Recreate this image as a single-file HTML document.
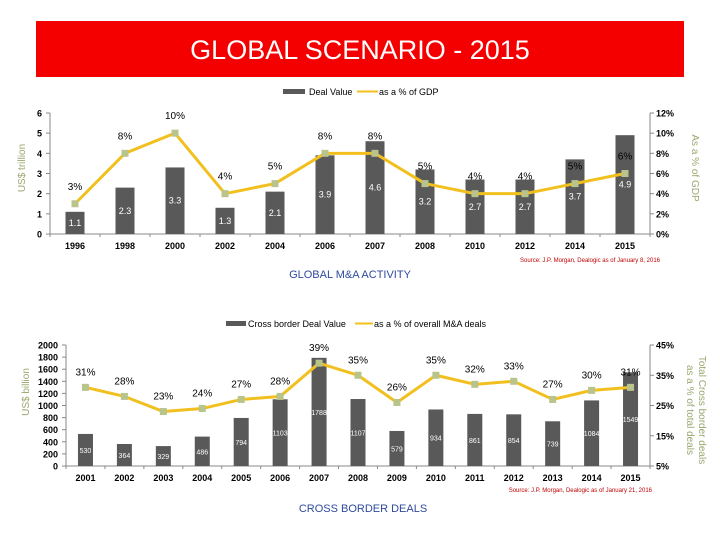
<!DOCTYPE html>
<html><head><meta charset="utf-8">
<style>
html,body{margin:0;padding:0;background:#fff;}
body{width:720px;height:540px;overflow:hidden;position:relative;font-family:"Liberation Sans",sans-serif;}
#title{position:absolute;left:36px;top:21px;width:648px;height:56px;background:#f40000;color:#fff;font-size:27px;text-align:center;line-height:58px;}
svg{position:absolute;left:0;top:0;}
svg text{font-family:"Liberation Sans",sans-serif;}
</style></head>
<body>
<div id="title">GLOBAL SCENARIO - 2015</div>
<svg id="s" width="720" height="540"></svg>
<script>
const cat1 = ["1996","1998","2000","2002","2004","2006","2007","2008","2010","2012","2014","2015"];
const deal1 = [1.1,2.3,3.3,1.3,2.1,3.9,4.6,3.2,2.7,2.7,3.7,4.9];
const gdp1 = [3,8,10,4,5,8,8,5,4,4,5,6];
const leftTicks1 = [0,1,2,3,4,5,6];
const rightTicks1 = [0,2,4,6,8,10,12];

const cat2 = ["2001","2002","2003","2004","2005","2006","2007","2008","2009","2010","2011","2012","2013","2014","2015"];
const deal2 = [530,364,329,486,794,1103,1788,1107,579,934,861,854,739,1084,1549];
const pct2 = [31,28,23,24,27,28,39,35,26,35,32,33,27,30,31];
const leftTicks2 = [0,200,400,600,800,1000,1200,1400,1600,1800,2000];
const rightTicks2 = [5,15,25,35,45];

const S = document.getElementById('s');
const NS = 'http://www.w3.org/2000/svg';
function el(tag, attrs, txt){const e=document.createElementNS(NS,tag);for(const k in attrs)e.setAttribute(k,attrs[k]);if(txt!==undefined)e.textContent=txt;S.appendChild(e);return e;}

function chart(o){
  const n=o.cats.length, w=(o.x1-o.x0)/n;
  const xc=i=>o.x0+w*(i+0.5);
  const yl=v=>o.yb-(v-o.lmin)/(o.lmax-o.lmin)*(o.yb-o.yt);
  const yr=v=>o.yb-(v-o.rmin)/(o.rmax-o.rmin)*(o.yb-o.yt);
  let a;
  a=el('line',{x1:o.x0,y1:o.yt,x2:o.x0,y2:o.yb,stroke:'#888'});
  
  
  a=el('line',{x1:o.x1,y1:o.yt,x2:o.x1,y2:o.yb,stroke:'#888'});
  
  
  a=el('line',{x1:o.x0,y1:o.yb,x2:o.x1,y2:o.yb,stroke:'#888'});
  
  
  o.lt.forEach(v=>{
    el('line',{x1:o.x0-4,y1:yl(v),x2:o.x0,y2:yl(v),stroke:'#888'});
    const t=el('text',{x:o.x0-8,y:yl(v)+3.5,'font-size':9,'font-weight':'bold','text-anchor':'end'},v);
    
    
  });
  o.rt.forEach(v=>{
    el('line',{x1:o.x1,y1:yr(v),x2:o.x1+4,y2:yr(v),stroke:'#888'});
    const t=el('text',{x:o.x1+6,y:yr(v)+3.5,'font-size':9,'font-weight':'bold'},v+'%');
    
    
  });
  for(let i=0;i<=n;i++) el('line',{x1:o.x0+w*i,y1:o.yb,x2:o.x0+w*i,y2:o.yb+3,stroke:'#888'});
  o.cats.forEach((c,i)=>{
    const t=el('text',{x:xc(i),y:o.yb+15,'font-size':9,'font-weight':'bold','text-anchor':'middle'},c);
    
    
  });
  o.bars.forEach((v,i)=>{
    const r=el('rect',{x:xc(i)-o.bw/2,y:yl(v),width:o.bw,height:o.yb-yl(v),fill:'#595959'});
    
    
    const t=el('text',{x:xc(i),y:(yl(v)+o.yb)/2+3,'font-size':o.bfs,fill:'#fff','text-anchor':'middle'},v);
    
    
  });
  const pts=o.line.map((v,i)=>xc(i)+','+yr(v)).join(' ');
  const pl=el('polyline',{points:pts,fill:'none',stroke:'#f2c01e','stroke-width':3,'stroke-linejoin':'round'});
  
  
  o.line.forEach((v,i)=>{
    const m=el('rect',{x:xc(i)-3.5,y:yr(v)-3.5,width:7,height:7,fill:'#b8c48c'});
    
    
    const t=el('text',{x:xc(i),y:yr(v)-o.loff,'font-size':10,'text-anchor':'middle'},v+'%');
    
    
  });
}

chart({p:'gdp',cats:cat1,bars:deal1,line:gdp1,lt:leftTicks1,rt:rightTicks1,x0:50,x1:650,yt:113,yb:234,lmin:0,lmax:6,rmin:0,rmax:12,bw:19,bfs:9,loff:14});
chart({p:'cb',cats:cat2,bars:deal2,line:pct2,lt:leftTicks2,rt:rightTicks2,x0:66,x1:650,yt:345,yb:466,lmin:0,lmax:2000,rmin:5,rmax:45,bw:15,bfs:7,loff:12});

function txt(x,y,s,attrs,name){const t=el('text',Object.assign({x:x,y:y},attrs),s);return t;}
let r=el('rect',{x:283,y:89,width:22,height:5,fill:'#595959'});

txt(309,95,'Deal Value',{'font-size':9},'legend-deal-value');
r=el('line',{x1:357,y1:91.5,x2:378,y2:91.5,stroke:'#f2c01e','stroke-width':2});

txt(379,95,'as a % of GDP',{'font-size':9},'legend-gdp');
r=el('rect',{x:226,y:321,width:20,height:5,fill:'#595959'});

txt(248,327,'Cross border Deal Value',{'font-size':9},'legend-cb-deal');
r=el('line',{x1:355,y1:323.5,x2:373,y2:323.5,stroke:'#f2c01e','stroke-width':2});

txt(374,327,'as a % of overall M&A deals',{'font-size':9},'legend-mna');
txt(0,0,'US$ trillion',{'font-size':10,fill:'#9aa870','text-anchor':'middle',transform:'translate(25,168) rotate(-90)'},'gdp-y-axis-title');
txt(0,0,'As a % of GDP',{'font-size':10,fill:'#9aa870','text-anchor':'middle',transform:'translate(692,168) rotate(90)'},'gdp-right-axis-title');
txt(0,0,'US$ billion',{'font-size':10,fill:'#9aa870','text-anchor':'middle',transform:'translate(29,392) rotate(-90)'},'cb-y-axis-title');
txt(0,0,'Total Cross border deals',{'font-size':10,fill:'#9aa870','text-anchor':'middle',transform:'translate(699,410) rotate(90)'},'cb-right-axis-title-1');
txt(0,0,'as a % of total deals',{'font-size':10,fill:'#9aa870','text-anchor':'middle',transform:'translate(687,410) rotate(90)'},'cb-right-axis-title-2');
txt(660,262,'Source: J.P. Morgan, Dealogic as of January 8, 2016',{'font-size':6,fill:'#c00000','text-anchor':'end'},'gdp-source');
txt(652,492,'Source: J.P. Morgan, Dealogic as of January 21, 2016',{'font-size':6,fill:'#c00000','text-anchor':'end'},'cb-source');
txt(350,278,'GLOBAL M&A ACTIVITY',{'font-size':11,fill:'#2e4a9e','text-anchor':'middle'},'section-heading-mna');
txt(363,512,'CROSS BORDER DEALS',{'font-size':11,fill:'#2e4a9e','text-anchor':'middle'},'section-heading-cross-border');
</script>
</body></html>
